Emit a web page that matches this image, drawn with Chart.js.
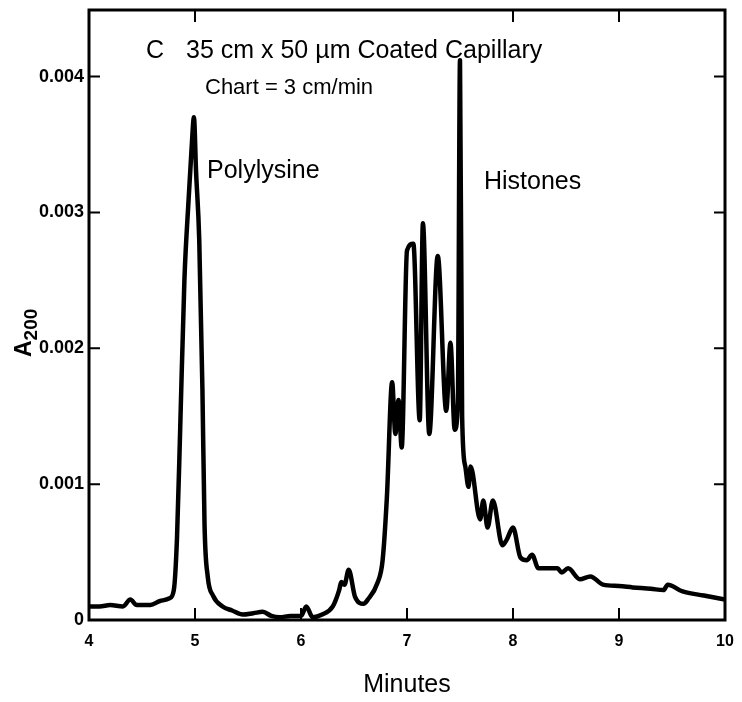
<!DOCTYPE html>
<html>
<head>
<meta charset="utf-8">
<script src="https://cdn.jsdelivr.net/npm/chart.js@4.4.1/dist/chart.umd.min.js"></script>
<style>
  html, body { margin: 0; padding: 0; background: #fff; }
</style>
</head>
<body>
<canvas id="trace" width="742" height="702"></canvas>
<script>
// electropherogram (minutes vs A200)
const minutes = [
  4.0, 4.1, 4.2, 4.32, 4.39, 4.45, 4.58, 4.67, 4.76, 4.8,
  4.83, 4.86, 4.9, 4.94, 4.97, 4.99, 5.01, 5.04, 5.07, 5.09,
  5.12, 5.17, 5.26, 5.35, 5.45, 5.55, 5.64, 5.72, 5.8, 5.9,
  6.0, 6.05, 6.11, 6.2, 6.3, 6.36, 6.38, 6.41, 6.45, 6.51,
  6.59, 6.63, 6.72, 6.77, 6.81, 6.86, 6.89, 6.92, 6.95, 7.0,
  7.06, 7.12, 7.15, 7.21, 7.29, 7.37, 7.41, 7.45, 7.48, 7.5,
  7.52, 7.55, 7.58, 7.6, 7.69, 7.72, 7.76, 7.81, 7.9, 7.94,
  8.0, 8.07, 8.13, 8.18, 8.24, 8.33, 8.42, 8.46, 8.52, 8.63,
  8.73, 8.85, 9.0, 9.13, 9.3, 9.42, 9.46, 9.6, 9.8, 10.0
];
const absorbance = [
  0.0001, 0.0001, 0.00011, 0.0001, 0.00015, 0.00011, 0.00011, 0.00014, 0.00016, 0.00022,
  0.0006, 0.0014, 0.0025, 0.0031, 0.0035, 0.0037, 0.0033, 0.0028, 0.0017, 0.0007,
  0.00032, 0.00018, 0.0001, 0.00007, 0.00004, 0.00005, 0.00006, 0.00003, 0.00002, 0.00003,
  0.00003, 0.0001, 0.00002, 0.00004, 0.0001, 0.00022, 0.00028, 0.00026, 0.00037, 0.00017,
  0.00012, 0.00015, 0.00027, 0.00044, 0.0009, 0.00175, 0.00137, 0.00162, 0.00127, 0.00272,
  0.00277, 0.00147, 0.00292, 0.00137, 0.00268, 0.00154, 0.00204, 0.0014, 0.0016, 0.00412,
  0.0015, 0.00113, 0.00098, 0.00113, 0.00074, 0.00088, 0.00068, 0.00088, 0.00055, 0.00059,
  0.00068, 0.00046, 0.00044, 0.00048, 0.00038, 0.00038, 0.00038, 0.00035, 0.00038, 0.0003,
  0.00032, 0.00026, 0.00025, 0.00024, 0.00023, 0.00022, 0.00026, 0.00021, 0.00018, 0.00015
];
const xTicks = [4, 5, 6, 7, 8, 9, 10];
const yTicks = [0, 0.001, 0.002, 0.003, 0.004];
const topTicks = [5, 8, 9];

const font = '"Liberation Sans", Arial, Helvetica, sans-serif';

const points = minutes.map((m, i) => ({ x: m, y: absorbance[i] }));

// box, inward ticks and the figure's text
const frame = {
  id: 'frame',
  afterDraw(chart) {
    const { ctx, chartArea: a, scales: { x, y } } = chart;
    ctx.save();
    ctx.strokeStyle = '#000';
    ctx.lineWidth = 3;
    ctx.strokeRect(a.left, a.top, a.right - a.left, a.bottom - a.top);

    ctx.lineWidth = 2;
    ctx.beginPath();
    xTicks.slice(1, -1).forEach(v => {
      const px = x.getPixelForValue(v);
      ctx.moveTo(px, a.bottom);
      ctx.lineTo(px, a.bottom - 12);
    });
    topTicks.forEach(v => {
      const px = x.getPixelForValue(v);
      ctx.moveTo(px, a.top);
      ctx.lineTo(px, a.top + 12);
    });
    yTicks.slice(1).forEach(v => {
      const py = y.getPixelForValue(v);
      ctx.moveTo(a.left, py);
      ctx.lineTo(a.left + 11, py);
      ctx.moveTo(a.right, py);
      ctx.lineTo(a.right - 11, py);
    });
    ctx.stroke();

    ctx.fillStyle = '#000';
    ctx.textBaseline = 'alphabetic';
    ctx.textAlign = 'left';
    ctx.font = '25px ' + font;
    ctx.fillText('C', 146, 58);
    ctx.fillText('35 cm x 50 µm Coated Capillary', 186, 58);
    ctx.fillText('Polylysine', 207, 178);
    ctx.fillText('Histones', 484, 189);
    ctx.font = '22px ' + font;
    ctx.fillText('Chart = 3 cm/min', 205, 94);

    // y axis title A200 with subscript
    ctx.translate(31, 357);
    ctx.rotate(-Math.PI / 2);
    ctx.font = 'bold 23px ' + font;
    ctx.fillText('A', 0, 0);
    const w = ctx.measureText('A').width;
    ctx.font = 'bold 19px ' + font;
    ctx.fillText('200', w, 6);
    ctx.restore();
  }
};

new Chart(document.getElementById('trace'), {
  type: 'line',
  data: {
    datasets: [{
      data: points,
      borderColor: '#000',
      borderWidth: 4.5,
      pointRadius: 0,
      borderJoinStyle: 'round',
      borderCapStyle: 'round',
      cubicInterpolationMode: 'monotone',
      fill: false
    }]
  },
  options: {
    responsive: false,
    animation: false,
    layout: { padding: { left: 0, right: 17, top: 10, bottom: 0 } },
    plugins: {
      legend: { display: false },
      tooltip: { enabled: false }
    },
    scales: {
      x: {
        type: 'linear',
        min: 4,
        max: 10,
        afterBuildTicks: scale => { scale.ticks = xTicks.map(v => ({ value: v })); },
        afterFit: scale => {
          scale.height = 82;
          scale.paddingLeft = 0;
          scale.paddingRight = 0;
        },
        grid: { display: false, drawTicks: false },
        border: { display: false },
        ticks: {
          color: '#000',
          padding: 12,
          font: { family: font, size: 16, weight: 'bold' },
          callback: v => String(v)
        },
        title: {
          display: true,
          text: 'Minutes',
          color: '#000',
          font: { family: font, size: 25 },
          padding: { top: 0, bottom: 2 }
        }
      },
      y: {
        type: 'linear',
        min: 0,
        max: 0.00449,
        afterBuildTicks: scale => { scale.ticks = yTicks.map(v => ({ value: v })); },
        afterFit: scale => {
          scale.width = 89;
          scale.paddingTop = 0;
          scale.paddingBottom = 0;
        },
        grid: { display: false, drawTicks: false },
        border: { display: false },
        ticks: {
          color: '#000',
          padding: 5,
          font: { family: font, size: 18, weight: 'bold' },
          callback: v => v === 0 ? '0' : v.toFixed(3)
        }
      }
    }
  },
  plugins: [frame]
});
</script>
</body>
</html>
